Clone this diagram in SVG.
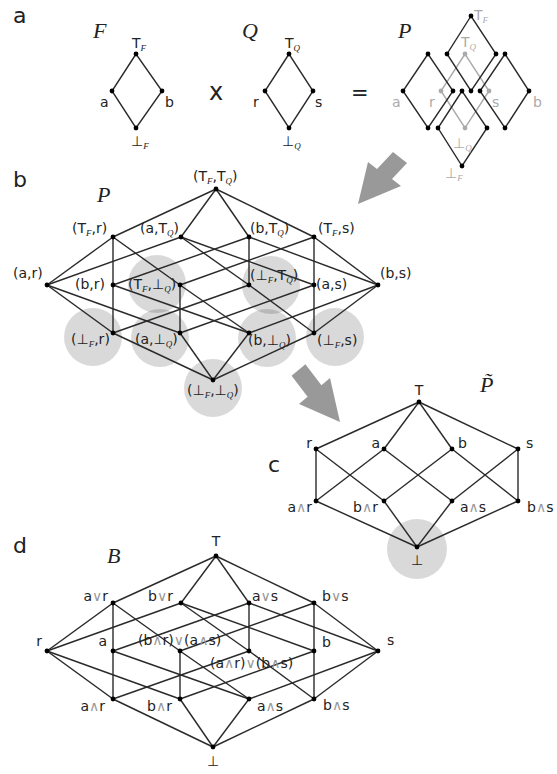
<svg xmlns="http://www.w3.org/2000/svg" width="557" height="774" viewBox="0 0 557 774">
<style>
text{font-family:"DejaVu Sans","Liberation Sans",sans-serif;font-size:14px;fill:#222}
.pl{font-size:22px}
.it{font-family:"Liberation Serif","DejaVu Serif",serif;font-style:italic;font-size:22px}
.s{font-family:"Liberation Serif","DejaVu Serif",serif;font-style:italic;font-size:9px}
.op{fill:#999}
.gt{fill:#aaa}
.e line,.e path{stroke:#2a2a2a;stroke-width:1.4;fill:none}
.ge{stroke:#aaa;stroke-width:1.4;fill:none}
.d{fill:#000}
.gd{fill:#aaa}
.hl{fill:#000;fill-opacity:0.15}
.arr{fill:#999}
</style>
<rect width="557" height="774" fill="#fff"/>

<!-- panel labels and titles -->
<text class="pl" x="13" y="23">a</text>
<text class="pl" x="13" y="187">b</text>
<text class="pl" x="268" y="472">c</text>
<text class="pl" x="13" y="553">d</text>
<text class="it" x="93" y="38">F</text>
<text class="it" x="242" y="38">Q</text>
<text class="it" x="398" y="38">P</text>
<text x="209" y="100" style="font-size:24px">x</text>
<text x="351" y="100" style="font-size:21px">=</text>
<text class="it" x="97" y="202">P</text>
<text class="it" x="480" y="392">P̃</text>
<text class="it" x="107" y="563">B</text>

<!-- gray arrows -->
<polygon class="arr" points="358,204 368,162 377,169 393,152 407,163 392,179 401,186"/>
<polygon class="arr" points="340,422 299,404 307.6,396.8 291.6,375.8 305.4,364.2 321.4,385.2 330,378"/>

<!-- highlight circles -->
<g id="highlights">
<circle class="hl" cx="93" cy="337" r="29"/>
<circle class="hl" cx="160" cy="338" r="29"/>
<circle class="hl" cx="157" cy="284" r="29"/>
<circle class="hl" cx="271" cy="285" r="29"/>
<circle class="hl" cx="267" cy="338" r="29"/>
<circle class="hl" cx="335" cy="337" r="29"/>
<circle class="hl" cx="213" cy="388" r="29"/>
<circle class="hl" cx="417" cy="549" r="30"/>
</g>

<!-- connectors -->
<g id="connectors" class="e">
<!-- F -->
<path d="M136,54 L112,91 L136,128 L162,91 Z"/>
<!-- Q -->
<path d="M289,54 L265,91 L289,128 L313,91 Z"/>
<!-- P small: gray Q -->
<path class="ge" d="M465,54 L441,91 L465,128 L489,91 Z" style="stroke:#aaa"/>
<!-- P small: black F copies -->
<path d="M428,54 L403,91 L428,128 L453,91 Z"/>
<path d="M471,16 L447,54 L471,91 L496,54 Z"/>
<path d="M505,54 L480,91 L505,128 L529,91 Z"/>
<path d="M462,91 L438,128 L462,166 L487,128 Z"/>

<!-- panel b -->
<line x1="216" y1="189" x2="113" y2="237"/>
<line x1="216" y1="189" x2="181" y2="237"/>
<line x1="216" y1="189" x2="249" y2="237"/>
<line x1="216" y1="189" x2="314" y2="237"/>
<line x1="113" y1="237" x2="47" y2="285"/>
<line x1="113" y1="237" x2="113" y2="285"/>
<line x1="113" y1="237" x2="180" y2="285"/>
<line x1="181" y1="237" x2="47" y2="285"/>
<line x1="181" y1="237" x2="314" y2="285"/>
<line x1="181" y1="237" x2="249" y2="285"/>
<line x1="249" y1="237" x2="113" y2="285"/>
<line x1="249" y1="237" x2="378" y2="285"/>
<line x1="249" y1="237" x2="249" y2="285"/>
<line x1="314" y1="237" x2="314" y2="285"/>
<line x1="314" y1="237" x2="378" y2="285"/>
<line x1="314" y1="237" x2="180" y2="285"/>
<line x1="47" y1="285" x2="113" y2="333"/>
<line x1="47" y1="285" x2="180" y2="333"/>
<line x1="113" y1="285" x2="113" y2="333"/>
<line x1="113" y1="285" x2="249" y2="333"/>
<line x1="180" y1="285" x2="180" y2="333"/>
<line x1="180" y1="285" x2="249" y2="333"/>
<line x1="249" y1="285" x2="113" y2="333"/>
<line x1="249" y1="285" x2="314" y2="333"/>
<line x1="314" y1="285" x2="314" y2="333"/>
<line x1="314" y1="285" x2="180" y2="333"/>
<line x1="378" y1="285" x2="314" y2="333"/>
<line x1="378" y1="285" x2="249" y2="333"/>
<line x1="113" y1="333" x2="213" y2="380"/>
<line x1="180" y1="333" x2="213" y2="380"/>
<line x1="249" y1="333" x2="213" y2="380"/>
<line x1="314" y1="333" x2="213" y2="380"/>

<!-- panel c -->
<line x1="419" y1="402" x2="316" y2="449"/>
<line x1="419" y1="402" x2="384" y2="449"/>
<line x1="419" y1="402" x2="452" y2="449"/>
<line x1="419" y1="402" x2="518" y2="449"/>
<line x1="316" y1="449" x2="316" y2="501"/>
<line x1="316" y1="449" x2="384" y2="501"/>
<line x1="384" y1="449" x2="316" y2="501"/>
<line x1="384" y1="449" x2="452" y2="501"/>
<line x1="452" y1="449" x2="384" y2="501"/>
<line x1="452" y1="449" x2="518" y2="501"/>
<line x1="518" y1="449" x2="452" y2="501"/>
<line x1="518" y1="449" x2="518" y2="501"/>
<line x1="316" y1="501" x2="417" y2="547"/>
<line x1="384" y1="501" x2="417" y2="547"/>
<line x1="452" y1="501" x2="417" y2="547"/>
<line x1="518" y1="501" x2="417" y2="547"/>

<!-- panel d -->
<line x1="216" y1="556" x2="113" y2="603"/>
<line x1="216" y1="556" x2="181" y2="603"/>
<line x1="216" y1="556" x2="249" y2="603"/>
<line x1="216" y1="556" x2="314" y2="603"/>
<line x1="113" y1="603" x2="47" y2="651"/>
<line x1="113" y1="603" x2="113" y2="651"/>
<line x1="113" y1="603" x2="180" y2="651"/>
<line x1="181" y1="603" x2="47" y2="651"/>
<line x1="181" y1="603" x2="314" y2="651"/>
<line x1="181" y1="603" x2="249" y2="651"/>
<line x1="249" y1="603" x2="113" y2="651"/>
<line x1="249" y1="603" x2="378" y2="651"/>
<line x1="249" y1="603" x2="249" y2="651"/>
<line x1="314" y1="603" x2="314" y2="651"/>
<line x1="314" y1="603" x2="378" y2="651"/>
<line x1="314" y1="603" x2="180" y2="651"/>
<line x1="47" y1="651" x2="113" y2="699"/>
<line x1="47" y1="651" x2="180" y2="699"/>
<line x1="113" y1="651" x2="113" y2="699"/>
<line x1="113" y1="651" x2="249" y2="699"/>
<line x1="180" y1="651" x2="180" y2="699"/>
<line x1="180" y1="651" x2="249" y2="699"/>
<line x1="249" y1="651" x2="113" y2="699"/>
<line x1="249" y1="651" x2="314" y2="699"/>
<line x1="314" y1="651" x2="314" y2="699"/>
<line x1="314" y1="651" x2="180" y2="699"/>
<line x1="378" y1="651" x2="314" y2="699"/>
<line x1="378" y1="651" x2="249" y2="699"/>
<line x1="113" y1="699" x2="213" y2="747"/>
<line x1="180" y1="699" x2="213" y2="747"/>
<line x1="249" y1="699" x2="213" y2="747"/>
<line x1="314" y1="699" x2="213" y2="747"/>
</g>

<!-- ===== Panel a nodes ===== -->
<g id="F-top"><circle class="d" cx="136" cy="54" r="2.4"/><text x="132" y="48">T<tspan class="s" dy="3">F</tspan></text></g>
<g id="F-a"><circle class="d" cx="112" cy="91" r="2.4"/><text x="100" y="107">a</text></g>
<g id="F-b"><circle class="d" cx="162" cy="91" r="2.4"/><text x="165" y="107">b</text></g>
<g id="F-bot"><circle class="d" cx="136" cy="128" r="2.4"/><text x="131" y="146">⊥<tspan class="s" dy="3">F</tspan></text></g>

<g id="Q-top"><circle class="d" cx="289" cy="54" r="2.4"/><text x="285" y="48">T<tspan class="s" dy="3">Q</tspan></text></g>
<g id="Q-r"><circle class="d" cx="265" cy="91" r="2.4"/><text x="253" y="107">r</text></g>
<g id="Q-s"><circle class="d" cx="313" cy="91" r="2.4"/><text x="315" y="107">s</text></g>
<g id="Q-bot"><circle class="d" cx="289" cy="128" r="2.4"/><text x="282" y="146">⊥<tspan class="s" dy="3">Q</tspan></text></g>

<g id="Pa-gray">
<circle class="gd" cx="465" cy="54" r="2.4"/><circle class="gd" cx="441" cy="91" r="2.4"/>
<circle class="gd" cx="489" cy="91" r="2.4"/><circle class="gd" cx="465" cy="128" r="2.4"/>
<text class="gt" x="474" y="20">T<tspan class="s gt" dy="3">F</tspan></text>
<text class="gt" x="461" y="47">T<tspan class="s gt" dy="3">Q</tspan></text>
<text class="gt" x="392" y="107">a</text>
<text class="gt" x="429" y="107">r</text>
<text class="gt" x="492" y="107">s</text>
<text class="gt" x="533" y="107">b</text>
<text class="gt" x="453" y="148">⊥<tspan class="s gt" dy="3">Q</tspan></text>
<text class="gt" x="445" y="178">⊥<tspan class="s gt" dy="3">F</tspan></text>
</g>
<g id="Pa-F-left"><circle class="d" cx="428" cy="54" r="2.4"/><circle class="d" cx="403" cy="91" r="2.4"/><circle class="d" cx="453" cy="91" r="2.4"/><circle class="d" cx="428" cy="128" r="2.4"/></g>
<g id="Pa-F-top"><circle class="d" cx="471" cy="16" r="2.4"/><circle class="d" cx="447" cy="54" r="2.4"/><circle class="d" cx="496" cy="54" r="2.4"/><circle class="d" cx="471" cy="91" r="2.4"/></g>
<g id="Pa-F-right"><circle class="d" cx="505" cy="54" r="2.4"/><circle class="d" cx="480" cy="91" r="2.4"/><circle class="d" cx="529" cy="91" r="2.4"/><circle class="d" cx="505" cy="128" r="2.4"/></g>
<g id="Pa-F-bottom"><circle class="d" cx="462" cy="91" r="2.4"/><circle class="d" cx="438" cy="128" r="2.4"/><circle class="d" cx="487" cy="128" r="2.4"/><circle class="d" cx="462" cy="166" r="2.4"/></g>

<!-- ===== Panel b nodes ===== -->
<g id="b-TT"><circle class="d" cx="216" cy="189" r="2.4"/><text x="193" y="181">(T<tspan class="s" dy="3">F</tspan><tspan dy="-3">,T</tspan><tspan class="s" dy="3">Q</tspan><tspan dy="-3">)</tspan></text></g>
<g id="b-Tr"><circle class="d" cx="113" cy="237" r="2.4"/><text x="72" y="233">(T<tspan class="s" dy="3">F</tspan><tspan dy="-3">,r)</tspan></text></g>
<g id="b-aT"><circle class="d" cx="181" cy="237" r="2.4"/><text x="140" y="233">(a,T<tspan class="s" dy="3">Q</tspan><tspan dy="-3">)</tspan></text></g>
<g id="b-bT"><circle class="d" cx="249" cy="237" r="2.4"/><text x="250" y="233">(b,T<tspan class="s" dy="3">Q</tspan><tspan dy="-3">)</tspan></text></g>
<g id="b-Ts"><circle class="d" cx="314" cy="237" r="2.4"/><text x="318" y="233">(T<tspan class="s" dy="3">F</tspan><tspan dy="-3">,s)</tspan></text></g>
<g id="b-ar"><circle class="d" cx="47" cy="285" r="2.4"/><text x="13" y="278">(a,r)</text></g>
<g id="b-br"><circle class="d" cx="113" cy="285" r="2.4"/><text x="75" y="289">(b,r)</text></g>
<g id="b-TB"><circle class="d" cx="180" cy="285" r="2.4"/><text x="128" y="289">(T<tspan class="s" dy="3">F</tspan><tspan dy="-3">,⊥</tspan><tspan class="s" dy="3">Q</tspan><tspan dy="-3">)</tspan></text></g>
<g id="b-BT"><circle class="d" cx="249" cy="285" r="2.4"/><text x="250" y="280">(⊥<tspan class="s" dy="3">F</tspan><tspan dy="-3">,T</tspan><tspan class="s" dy="3">Q</tspan><tspan dy="-3">)</tspan></text></g>
<g id="b-as"><circle class="d" cx="314" cy="285" r="2.4"/><text x="316" y="289">(a,s)</text></g>
<g id="b-bs"><circle class="d" cx="378" cy="285" r="2.4"/><text x="380" y="278">(b,s)</text></g>
<g id="b-Br"><circle class="d" cx="113" cy="333" r="2.4"/><text x="71" y="344">(⊥<tspan class="s" dy="3">F</tspan><tspan dy="-3">,r)</tspan></text></g>
<g id="b-aB"><circle class="d" cx="180" cy="333" r="2.4"/><text x="135" y="344">(a,⊥<tspan class="s" dy="3">Q</tspan><tspan dy="-3">)</tspan></text></g>
<g id="b-bB"><circle class="d" cx="249" cy="333" r="2.4"/><text x="248" y="345">(b,⊥<tspan class="s" dy="3">Q</tspan><tspan dy="-3">)</tspan></text></g>
<g id="b-Bs"><circle class="d" cx="314" cy="333" r="2.4"/><text x="317" y="345">(⊥<tspan class="s" dy="3">F</tspan><tspan dy="-3">,s)</tspan></text></g>
<g id="b-BB"><circle class="d" cx="213" cy="380" r="2.4"/><text x="187" y="395">(⊥<tspan class="s" dy="3">F</tspan><tspan dy="-3">,⊥</tspan><tspan class="s" dy="3">Q</tspan><tspan dy="-3">)</tspan></text></g>

<!-- ===== Panel c nodes ===== -->
<g id="c-T"><circle class="d" cx="419" cy="402" r="2.4"/><text x="419" y="395" text-anchor="middle">T</text></g>
<g id="c-r"><circle class="d" cx="316" cy="449" r="2.4"/><text x="312" y="448" text-anchor="end">r</text></g>
<g id="c-a"><circle class="d" cx="384" cy="449" r="2.4"/><text x="380" y="448" text-anchor="end">a</text></g>
<g id="c-b"><circle class="d" cx="452" cy="449" r="2.4"/><text x="458" y="448">b</text></g>
<g id="c-s"><circle class="d" cx="518" cy="449" r="2.4"/><text x="526" y="448">s</text></g>
<g id="c-ar"><circle class="d" cx="316" cy="501" r="2.4"/><text x="312" y="512" text-anchor="end">a<tspan class="op">∧</tspan>r</text></g>
<g id="c-br"><circle class="d" cx="384" cy="501" r="2.4"/><text x="378" y="512" text-anchor="end">b<tspan class="op">∧</tspan>r</text></g>
<g id="c-as"><circle class="d" cx="452" cy="501" r="2.4"/><text x="460" y="512">a<tspan class="op">∧</tspan>s</text></g>
<g id="c-bs"><circle class="d" cx="518" cy="501" r="2.4"/><text x="527" y="512">b<tspan class="op">∧</tspan>s</text></g>
<g id="c-bot"><circle class="d" cx="417" cy="547" r="2.4"/><text x="417" y="565" text-anchor="middle">⊥</text></g>

<!-- ===== Panel d nodes ===== -->
<g id="d-T"><circle class="d" cx="216" cy="556" r="2.4"/><text x="216" y="546" text-anchor="middle">T</text></g>
<g id="d-avr"><circle class="d" cx="113" cy="603" r="2.4"/><text x="108" y="601" text-anchor="end">a<tspan class="op">∨</tspan>r</text></g>
<g id="d-bvr"><circle class="d" cx="181" cy="603" r="2.4"/><text x="173" y="601" text-anchor="end">b<tspan class="op">∨</tspan>r</text></g>
<g id="d-avs"><circle class="d" cx="249" cy="603" r="2.4"/><text x="252" y="601">a<tspan class="op">∨</tspan>s</text></g>
<g id="d-bvs"><circle class="d" cx="314" cy="603" r="2.4"/><text x="322" y="601">b<tspan class="op">∨</tspan>s</text></g>
<g id="d-r"><circle class="d" cx="47" cy="651" r="2.4"/><text x="42" y="646" text-anchor="end">r</text></g>
<g id="d-a"><circle class="d" cx="113" cy="651" r="2.4"/><text x="107" y="646" text-anchor="end">a</text></g>
<g id="d-bras"><circle class="d" cx="180" cy="651" r="2.4"/><text x="138" y="645">(b<tspan class="op">∧</tspan>r)<tspan class="op">∨</tspan>(a<tspan class="op">∧</tspan>s)</text></g>
<g id="d-arbs"><circle class="d" cx="249" cy="651" r="2.4"/><text x="210" y="668">(a<tspan class="op">∧</tspan>r)<tspan class="op">∨</tspan>(b<tspan class="op">∧</tspan>s)</text></g>
<g id="d-b"><circle class="d" cx="314" cy="651" r="2.4"/><text x="322" y="647">b</text></g>
<g id="d-s"><circle class="d" cx="378" cy="651" r="2.4"/><text x="387" y="645">s</text></g>
<g id="d-ar"><circle class="d" cx="113" cy="699" r="2.4"/><text x="105" y="711" text-anchor="end">a<tspan class="op">∧</tspan>r</text></g>
<g id="d-br"><circle class="d" cx="180" cy="699" r="2.4"/><text x="172" y="711" text-anchor="end">b<tspan class="op">∧</tspan>r</text></g>
<g id="d-as"><circle class="d" cx="249" cy="699" r="2.4"/><text x="257" y="711">a<tspan class="op">∧</tspan>s</text></g>
<g id="d-bs"><circle class="d" cx="314" cy="699" r="2.4"/><text x="323" y="710">b<tspan class="op">∧</tspan>s</text></g>
<g id="d-bot"><circle class="d" cx="213" cy="747" r="2.4"/><text x="213" y="766" text-anchor="middle">⊥</text></g>
</svg>
